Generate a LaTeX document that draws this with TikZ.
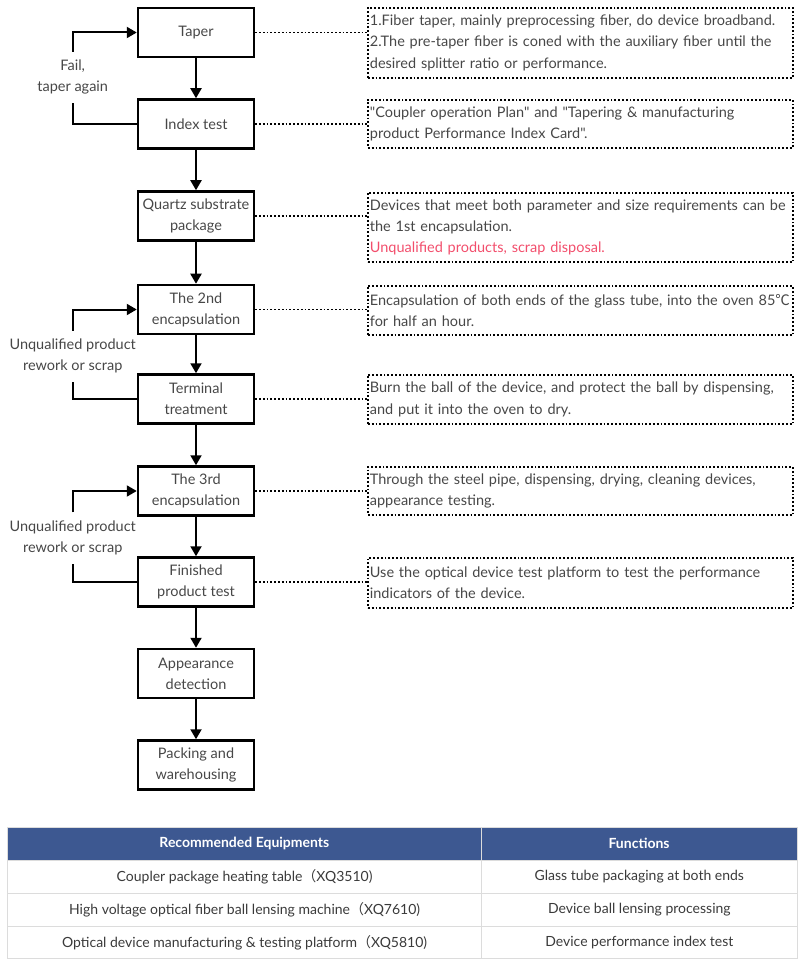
\documentclass[tikz,border=0pt]{standalone}
\usepackage{fontspec}
\newfontfamily\flowfont{Lato}
\newfontfamily\cjk{Noto Sans CJK SC}
\usetikzlibrary{arrows.meta}
\definecolor{txtgray}{HTML}{474747}
\definecolor{rowgray}{HTML}{3A3A3A}
\definecolor{scrapred}{HTML}{F24E6C}
\definecolor{headblue}{HTML}{3D5891}
\definecolor{gridgray}{HTML}{DCDCDC}

\begin{document}
\begin{tikzpicture}[x=1pt, y=-1pt,
  stage/.style={rectangle, draw=black, line width=2.5pt, minimum width=116pt, minimum height=49pt,
                align=center, inner sep=1pt, text=txtgray, font=\flowfont\fontsize{14.5}{21}\selectfont},
  note/.style={rectangle, draw=black, line width=1.8pt, dotted, anchor=north west, text width=421pt,
               inner xsep=2pt, inner ysep=0pt, align=left, text=txtgray,
               font=\flowfont\fontsize{14.5}{21.3}\selectfont},
  looptext/.style={align=center, inner sep=0pt, minimum height=51pt, text=txtgray,
                   font=\flowfont\fontsize{14.5}{21}\selectfont},
  arrow/.style={line width=2pt, -{Triangle[width=11pt,length=10pt]}},
  loopline/.style={line width=2pt},
  link/.style={line width=1.8pt, dotted},
  headcell/.style={rectangle, draw=gridgray, fill=headblue, anchor=north west, minimum height=33pt,
                   inner sep=0pt, text=white, font=\flowfont\fontsize{14}{17}\selectfont\bfseries},
  cell/.style={rectangle, draw=gridgray, line width=1pt, anchor=north west, minimum height=33pt,
               inner sep=0pt, text=rowgray, font=\flowfont\fontsize{14}{17}\selectfont}
]
  \useasboundingbox (0,0) rectangle (803,965);

  % ── Process stages ─────────────────────────────────────────────────────
  \node[stage] (taper)    at (196, 32.5) {Taper};
  \node[stage] (index)    at (196,124)   {Index test};
  \node[stage] (quartz)   at (196,216)   {Quartz substrate\\package};
  \node[stage] (encaps2)  at (196,309.5) {The 2nd\\encapsulation};
  \node[stage] (terminal) at (196,399)   {Terminal\\treatment};
  \node[stage] (encaps3)  at (196,491)   {The 3rd\\encapsulation};
  \node[stage] (finished) at (196,582)   {Finished\\product test};
  \node[stage] (appear)   at (196,673.5) {Appearance\\detection};
  \node[stage] (packing)  at (196,765)   {Packing and\\warehousing};

  % ── Notes ──────────────────────────────────────────────────────────────
  \node[note, minimum height=70pt] (taperN) at (367,7)
    {1.Fiber taper, mainly preprocessing fiber, do device broadband.\\
     2.The pre-taper fiber is coned with the auxiliary fiber until the\\
     desired splitter ratio or performance.};
  \node[note, minimum height=48pt] (indexN) at (367,99)
    {"Coupler operation Plan" and "Tapering \& manufacturing\\
     product Performance Index Card".};
  \node[note, minimum height=69pt] (quartzN) at (367,192)
    {Devices that meet both parameter and size requirements can be\\
     the 1st encapsulation.\\
     \textcolor{scrapred}{Unqualified products, scrap disposal.}};
  \node[note, minimum height=49pt] (encaps2N) at (367,285)
    {Encapsulation of both ends of the glass tube, into the oven 85{\cjk ℃}\\
     for half an hour.};
  \node[note, minimum height=49pt] (terminalN) at (367,374)
    {Burn the ball of the device, and protect the ball by dispensing,\\
     and put it into the oven to dry.};
  \node[note, minimum height=48pt] (encaps3N) at (367,466)
    {Through the steel pipe, dispensing, drying, cleaning devices,\\
     appearance testing.};
  \node[note, minimum height=50pt] (finishedN) at (367,557)
    {Use the optical device test platform to test the performance\\
     indicators of the device.};

  % ── Flow ───────────────────────────────────────────────────────────────
  \draw[arrow] (taper)    -- (index);
  \draw[arrow] (index)    -- (quartz);
  \draw[arrow] (quartz)   -- (encaps2);
  \draw[arrow] (encaps2)  -- (terminal);
  \draw[arrow] (terminal) -- (encaps3);
  \draw[arrow] (encaps3)  -- (finished);
  \draw[arrow] (finished) -- (appear);
  \draw[arrow] (appear)   -- (packing);

  % ── Links to notes ─────────────────────────────────────────────────────
  \draw[link] (taper.east)    -- (taper.east -| taperN.west);
  \draw[link] (index.east)    -- (index.east -| indexN.west);
  \draw[link] (quartz.east)   -- (quartz.east -| quartzN.west);
  \draw[link] (encaps2.east)  -- (encaps2.east -| encaps2N.west);
  \draw[link] (terminal.east) -- (terminal.east -| terminalN.west);
  \draw[link] (encaps3.east)  -- (encaps3.east -| encaps3N.west);
  \draw[link] (finished.east) -- (finished.east -| finishedN.west);

  % ── Rework loops ───────────────────────────────────────────────────────
  \node[looptext] (fail)    at (72.7,77.4)  {Fail,\\taper again};
  \node[looptext] (rework1) at (72.7,356.2) {Unqualified product\\rework or scrap};
  \node[looptext] (rework2) at (72.7,538)   {Unqualified product\\rework or scrap};

  \draw[arrow]    (fail.north) |- (taper.west);
  \draw[loopline] (index.west) -| (fail.south);
  \draw[arrow]    (rework1.north) |- (encaps2.west);
  \draw[loopline] (terminal.west) -| (rework1.south);
  \draw[arrow]    (rework2.north) |- (encaps3.west);
  \draw[loopline] (finished.west) -| (rework2.south);

  % ── Equipment table ────────────────────────────────────────────────────
  \node[headcell, minimum width=473.7pt] (hEquip) at (7.3,826.7) {Recommended Equipments};
  \node[headcell, minimum width=315.7pt] (hFunc)  at (481,826.7) {Functions};

  \node[cell, minimum width=473.7pt] (equip1) at (7.3,860) {Coupler package heating table{\cjk （}XQ3510)};
  \node[cell, minimum width=315.7pt] (func1)  at (481,860) {Glass tube packaging at both ends};
  \node[cell, minimum width=473.7pt] (equip2) at (7.3,893) {High voltage optical fiber ball lensing machine{\cjk （}XQ7610)};
  \node[cell, minimum width=315.7pt] (func2)  at (481,893) {Device ball lensing processing};
  \node[cell, minimum width=473.7pt, minimum height=32.3pt] (equip3) at (7.3,926)
    {Optical device manufacturing \& testing platform{\cjk （}XQ5810)};
  \node[cell, minimum width=315.7pt, minimum height=32.3pt] (func3)  at (481,926)
    {Device performance index test};
\end{tikzpicture}
\end{document}
